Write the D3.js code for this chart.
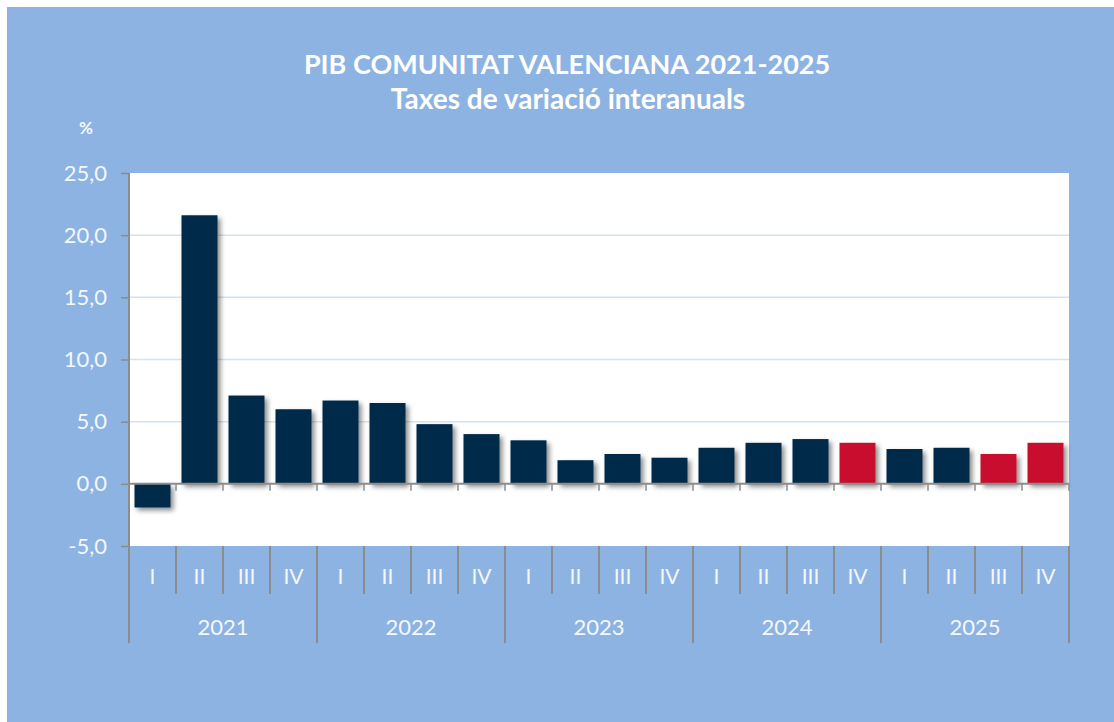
<!DOCTYPE html>
<html><head><meta charset="utf-8">
<script src="https://cdn.jsdelivr.net/npm/d3@7"></script>
<style>
html,body{margin:0;padding:0;background:#fff;}
svg{display:block;}
text{font-family:Lato,"Open Sans",sans-serif;}
</style></head>
<body>
<svg id="chart" width="1114" height="722"></svg>
<script>
const years = ["2021","2022","2023","2024","2025"];
const quarters = ["I","II","III","IV"];
const values = [-1.9,21.6,7.1,6.0, 6.7,6.5,4.8,4.0, 3.5,1.9,2.4,2.1, 2.9,3.3,3.6,3.3, 2.8,2.9,2.4,3.3];
const highlighted = [false,false,false,false, false,false,false,false, false,false,false,false, false,false,false,true, false,false,true,true];
const yTicks = [-5,0,5,10,15,20,25];
const title1 = "PIB COMUNITAT VALENCIANA 2021-2025";
const title2 = "Taxes de variació interanuals";
const unitLabel = "%";

const svg = d3.select("#chart");
const W = 1114, H = 722;
const C = {bg:"#8DB3E2", navy:"#03294A", red:"#C8102E", grid:"#D6E2F0", axis:"#8C8C8C", text:"#F4F7FB"};

svg.append("rect").attr("x",7).attr("y",7).attr("width",W-7).attr("height",H-7).attr("fill",C.bg);

const defs = svg.append("defs");
const f = defs.append("filter").attr("id","shadow").attr("x","-20%").attr("y","-20%").attr("width","150%").attr("height","150%");
f.append("feDropShadow").attr("dx",3).attr("dy",3).attr("stdDeviation",2.5).attr("flood-color","#000").attr("flood-opacity",0.45);

const plot = {l:129, r:1069, t:173, b:546};
const cats = [];
years.forEach(y => quarters.forEach(q => cats.push({y, q, key:y+"-"+q})));
cats.forEach((c,i)=>{c.v = values[i]; c.h = highlighted[i];});

const x = d3.scaleBand().domain(cats.map(c=>c.key)).range([plot.l, plot.r]).paddingInner(0.234).paddingOuter(0.117);
const y = d3.scaleLinear().domain([-5,25]).range([plot.b, plot.t]);

svg.append("rect").attr("x",plot.l).attr("y",plot.t).attr("width",plot.r-plot.l).attr("height",plot.b-plot.t).attr("fill","#fff");

// gridlines
svg.append("g").selectAll("line").data(yTicks.filter(t=>t>0&&t<25)).join("line")
  .attr("x1",plot.l).attr("x2",plot.r).attr("y1",d=>y(d)).attr("y2",d=>y(d))
  .attr("stroke",C.grid).attr("stroke-width",1.5);

// bars
svg.append("g").attr("filter","url(#shadow)").selectAll("rect").data(cats).join("rect")
  .attr("x",d=>x(d.key)).attr("width",x.bandwidth())
  .attr("y",d=>y(Math.max(0,d.v))).attr("height",d=>Math.abs(y(d.v)-y(0)))
  .attr("fill",d=>d.h?C.red:C.navy);

// y axis
const yAxis = d3.axisLeft(y).tickValues(yTicks).tickSize(8).tickPadding(14)
  .tickFormat(d=>d3.format(".1f")(d).replace(".",",").replace("\u2212","-"));
const ya = svg.append("g").attr("transform",`translate(${plot.l},0)`).call(yAxis);
ya.select(".domain").remove();
ya.selectAll(".tick line").attr("stroke",C.axis).attr("stroke-width",1.5);
ya.selectAll(".tick text").attr("fill",C.text).attr("font-size",22).attr("font-family","Lato,sans-serif");
svg.append("line").attr("x1",plot.l).attr("x2",plot.l).attr("y1",plot.t).attr("y2",643).attr("stroke",C.axis).attr("stroke-width",2);

// zero line with ticks
svg.append("line").attr("x1",plot.l).attr("x2",plot.r).attr("y1",y(0)).attr("y2",y(0)).attr("stroke",C.axis).attr("stroke-width",2);
const step = x.step();
const bounds = d3.range(1,cats.length+1).map(i=>plot.l + i*step);
svg.append("g").selectAll("line").data(bounds).join("line")
  .attr("x1",d=>d).attr("x2",d=>d).attr("y1",y(0)).attr("y2",y(0)+7)
  .attr("stroke",C.axis).attr("stroke-width",1.5);

// category axis below plot
svg.append("g").selectAll("line").data(bounds).join("line")
  .attr("x1",d=>d).attr("x2",d=>d).attr("y1",plot.b)
  .attr("y2",(d,i)=> (i+1)%4===0 ? 643 : 594)
  .attr("stroke",C.axis).attr("stroke-width",2);

svg.append("g").selectAll("text").data(cats).join("text")
  .attr("x",d=>x(d.key)+x.bandwidth()/2).attr("y",577).attr("dy","0.35em")
  .attr("text-anchor","middle").attr("fill",C.text).attr("font-size",21).text(d=>d.q);

svg.append("g").selectAll("text").data(years).join("text")
  .attr("x",(d,i)=>plot.l + (i*4+2)*step).attr("y",627).attr("dy","0.35em")
  .attr("text-anchor","middle").attr("fill",C.text).attr("font-size",22).text(d=>d);

// titles
svg.append("text").attr("x",567).attr("y",65).attr("dy","0.35em").attr("text-anchor","middle")
  .attr("fill","#fff").attr("font-weight","bold").attr("font-size",27).text(title1);
svg.append("text").attr("x",568).attr("y",99).attr("dy","0.35em").attr("text-anchor","middle")
  .attr("fill","#fff").attr("font-weight","bold").attr("font-size",28).text(title2);
svg.append("text").attr("x",86).attr("y",128).attr("dy","0.35em").attr("text-anchor","middle")
  .attr("fill",C.text).attr("font-weight","bold").attr("font-size",17).text(unitLabel);
</script>
</body></html>
